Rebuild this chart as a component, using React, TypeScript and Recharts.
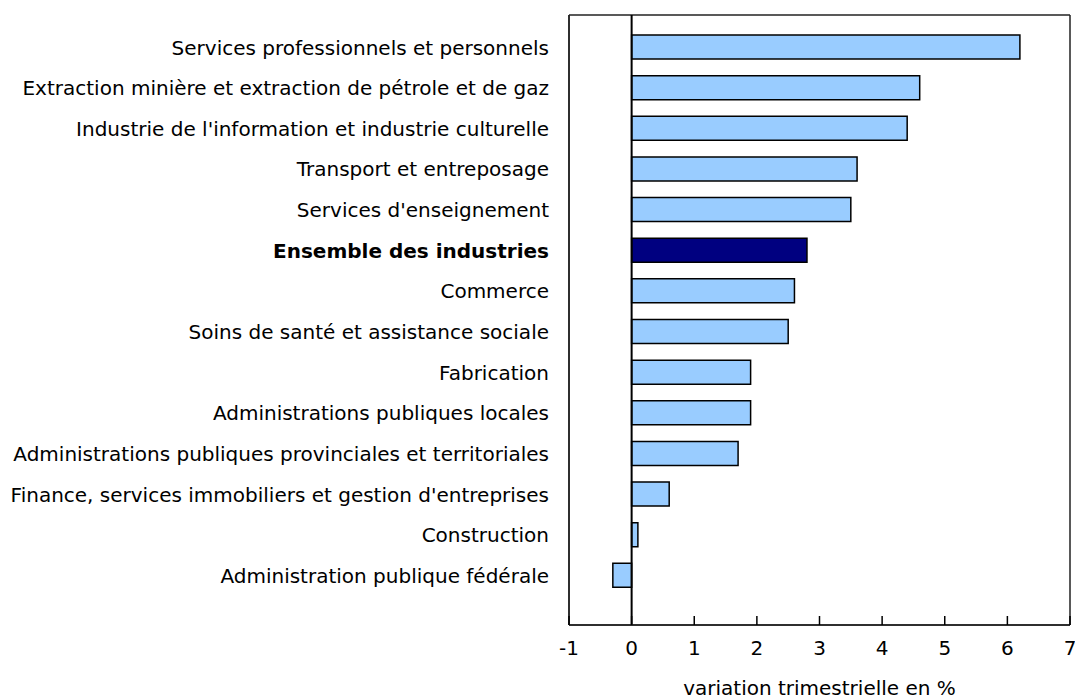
import React from 'react';
import { BarChart, Bar, XAxis, YAxis, Cell, ReferenceLine, CartesianGrid } from 'recharts';

const categories = [
    'Services professionnels et personnels',
    'Extraction minière et extraction de pétrole et de gaz',
    "Industrie de l'information et industrie culturelle",
    'Transport et entreposage',
    "Services d'enseignement",
    'Ensemble des industries',
    'Commerce',
    'Soins de santé et assistance sociale',
    'Fabrication',
    'Administrations publiques locales',
    'Administrations publiques provinciales et territoriales',
    "Finance, services immobiliers et gestion d'entreprises",
    'Construction',
    'Administration publique fédérale',
];
const values = [6.2, 4.6, 4.4, 3.6, 3.5, 2.8, 2.6, 2.5, 1.9, 1.9, 1.7, 0.6, 0.1, -0.3];
const xTicks = [-1, 0, 1, 2, 3, 4, 5, 6, 7];
const totalLabel = 'Ensemble des industries';
const axisTitle = 'variation trimestrielle en %';

const FONT = '"DejaVu Sans", Verdana, sans-serif';

const data = categories.map((name, i) => ({ name, value: values[i] }));

const CategoryTick = (props: any) => {
    const { x, y, payload } = props;
    const bold = payload.value === totalLabel;
    return (
        <text x={x} y={y} dy="0.36em" textAnchor="end" fontFamily={FONT} fontSize={20}
            fontWeight={bold ? 'bold' : 'normal'} fill="#000">
            {payload.value}
        </text>
    );
};

const ValueTick = (props: any) => {
    const { x, y, payload } = props;
    return (
        <g>
            <line x1={x} x2={x} y1={y} y2={y - 9} stroke="#000" strokeWidth={1.5} />
            <text x={x} y={y + 30} textAnchor="middle" fontFamily={FONT} fontSize={20} fill="#000">
                {payload.value}
            </text>
        </g>
    );
};

const App: React.FC = () => {
    return (
        <div style={{ position: 'absolute', left: 0, top: 0 }}>
            <BarChart width={1075} height={696} data={data} layout="vertical"
                margin={{ top: 15, right: 5, bottom: 0, left: 0 }}>
                <CartesianGrid stroke="#222" strokeWidth={1.5}
                    horizontalCoordinatesGenerator={({ offset }: any) => [offset.top, offset.top + offset.height]}
                    verticalCoordinatesGenerator={({ offset }: any) => [offset.left, offset.left + offset.width]} />
                <XAxis type="number" domain={[-1, 7]} ticks={xTicks} interval={0}
                    height={71} tickSize={0} tickMargin={0} tickLine={false} tick={<ValueTick />}
                    axisLine={{ stroke: '#222', strokeWidth: 1.5 }}
                    label={{ value: axisTitle, position: 'insideBottom', offset: 1, fontFamily: FONT, fontSize: 20, fill: '#000' }} />
                <YAxis type="category" dataKey="name" width={569} interval={0}
                    tickSize={0} tickMargin={20} tickLine={false} tick={<CategoryTick />}
                    padding={{ top: 12, bottom: 29 }}
                    axisLine={{ stroke: '#222', strokeWidth: 1.5 }} />
                <Bar dataKey="value" barSize={24}
                    stroke="#000" strokeWidth={1.5} isAnimationActive={false}>
                    {data.map((d) => (
                        <Cell key={d.name} fill={d.name === totalLabel ? '#000080' : '#99CCFF'} />
                    ))}
                </Bar>
                <ReferenceLine x={0} stroke="#000" strokeWidth={2} />
            </BarChart>
        </div>
    );
};

export default App;
